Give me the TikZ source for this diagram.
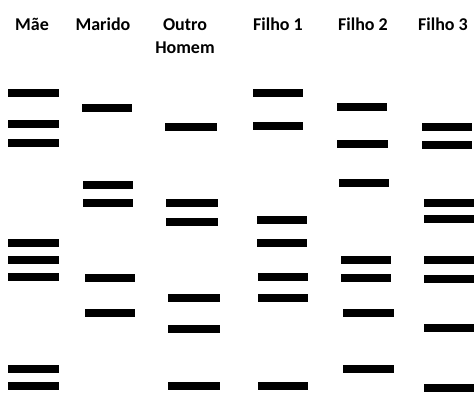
\documentclass[tikz,border=0pt]{standalone}
\usepackage{fontspec}
\setmainfont{Carlito}
\begin{document}
\begin{tikzpicture}[x=1pt,y=-1pt,
  lbl/.style={font=\bfseries\fontsize{18}{23}\selectfont, inner sep=0pt, align=center},
  band/.style={fill=black}]
\useasboundingbox (0,0) rectangle (474,394);
\newcommand{\bnd}[3]{\fill[band] (#1,#3-4) rectangle (#2,#3+4);}
\node[lbl] (mae) at (32,24) {Mãe};
\node[lbl] (marido) at (103,24) {Marido};
\node[lbl] (outro) at (185,36) {Outro\\Homem};
\node[lbl] (f1) at (278,24) {Filho 1};
\node[lbl] (f2) at (363,24) {Filho 2};
\node[lbl] (f3) at (443,24) {Filho 3};
% Mae
\foreach \y in {92.5,124,142.5,243,260,276.5,369,386} {\bnd{8}{59}{\y}}
% Marido
\bnd{82}{132}{108}
\foreach \y in {185,202.5} {\bnd{83}{133}{\y}}
\foreach \y in {278,313} {\bnd{85}{135}{\y}}
% Outro Homem
\foreach \y in {126.5} {\bnd{165}{217}{\y}}
\foreach \y in {203,221.5} {\bnd{166}{218}{\y}}
\foreach \y in {297.5,329,386} {\bnd{168}{220}{\y}}
% Filho 1
\foreach \y in {92.5,126} {\bnd{253}{303}{\y}}
\foreach \y in {220,243} {\bnd{257}{307}{\y}}
\foreach \y in {276.5,297.5,386} {\bnd{258}{308}{\y}}
% Filho 2
\bnd{337}{387}{107}
\bnd{337}{388}{144}
\bnd{339}{389}{183}
\foreach \y in {260,278} {\bnd{341}{391}{\y}}
\foreach \y in {313,369} {\bnd{343}{394}{\y}}
% Filho 3
\foreach \y in {126.5,145} {\bnd{422}{472}{\y}}
\foreach \y in {202.5,219,260,279,328,388} {\bnd{424}{474}{\y}}
\end{tikzpicture}
\end{document}
